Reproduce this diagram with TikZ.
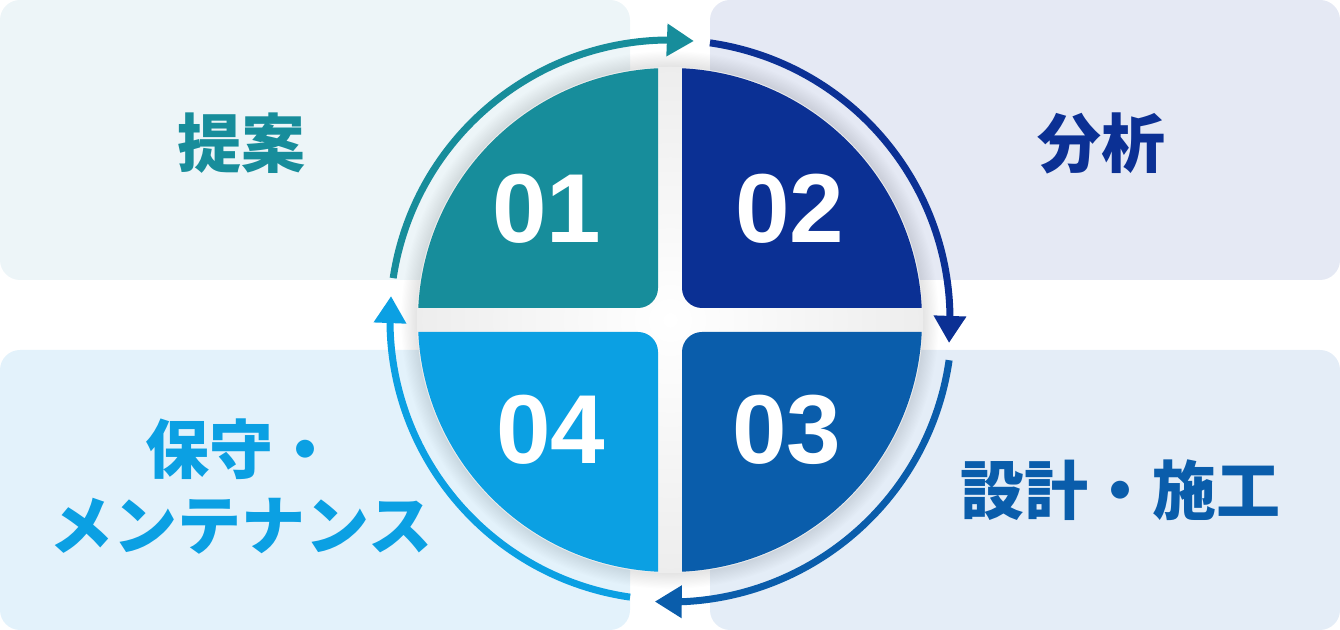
\documentclass[tikz,border=0pt]{standalone}
\usepackage{fontspec}
\setmainfont{Liberation Sans}
\newfontfamily\jpfont{Noto Sans CJK JP}
\usetikzlibrary{arrows.meta,bending}

\definecolor{tealq}{HTML}{178D9B}
\definecolor{navyq}{HTML}{0B3094}
\definecolor{blueq}{HTML}{0A5DAB}
\definecolor{skyq}{HTML}{0BA0E3}
\definecolor{bgteal}{HTML}{EDF5F8}
\definecolor{bgnavy}{HTML}{E5E9F4}
\definecolor{bgblue}{HTML}{E4EDF7}
\definecolor{bgsky}{HTML}{E3F2FB}

\begin{document}
\begin{tikzpicture}[x=0.5pt,y=0.5pt,
    panel/.style={fill=#1,rounded corners=10pt},
    quarter/.style={fill=#1,rounded corners=10pt},
    ring/.style={draw=#1,line width=3.5pt,-{Triangle[length=13.5pt,width=15.5pt]}},
    num/.style={text=white,font=\fontsize{49}{49}\selectfont\bfseries},
    lbl/.style={text=#1,font=\jpfont\fontsize{32}{38}\selectfont\bfseries,align=center}]
    \useasboundingbox (0,0) rectangle (1340,630);

    % Background panels
    \fill[panel=bgteal] (0,350) rectangle (630,630);
    \fill[panel=bgnavy] (710,350) rectangle (1340,630);
    \fill[panel=bgsky] (0,0) rectangle (630,280);
    \fill[panel=bgblue] (710,0) rectangle (1340,280);

    % Center of the cycle
    \coordinate (C) at (670,310);

    % Soft halo round the disc
    \foreach \r in {1,...,14}
        \fill[black,opacity=0.008] (C) circle (252+\r*1.2);
    \shade[inner color=white,outer color=black!7] (C) circle (253);

    % Four quarters, gap 24
    \begin{scope}
        \clip (C) circle (252);
        \fill[quarter=tealq] ([shift={(-12,12)}]C) rectangle ++(-300,300);
        \fill[quarter=navyq] ([shift={(12,12)}]C) rectangle ++(300,300);
        \fill[quarter=blueq] ([shift={(12,-12)}]C) rectangle ++(300,-300);
        \fill[quarter=skyq] ([shift={(-12,-12)}]C) rectangle ++(-300,-300);
    \end{scope}

    % Step numbers
    \node[num] (n01) at (547,421) {01};
    \node[num] (n02) at (790,421) {02};
    \node[num] (n03) at (787,200) {03};
    \node[num] (n04) at (551,200) {04};

    % Cycle arrows, r=280
    \draw[ring=tealq] ([shift={(171.4:280)}]C) arc[start angle=171.4,end angle=85.1,radius=280];
    \draw[ring=navyq] ([shift={(81.8:280)}]C) arc[start angle=81.8,end angle=-4.7,radius=280];
    \draw[ring=blueq] ([shift={(-8.2:282)}]C) arc[start angle=-8.2,end angle=-93.1,radius=282];
    \draw[ring=skyq] ([shift={(-98.2:280)}]C) arc[start angle=-98.2,end angle=-184.9,radius=280];

    % Labels
    \node[lbl=tealq] (teian) at (241,487) {提案};
    \node[lbl=navyq] (bunseki) at (1101,487) {分析};
    \node[lbl=blueq] (sekkei) at (1120,140) {設計・施工};
    \node[lbl=skyq] (hoshu) at (241,143) {保守・\\メンテナンス};
\end{tikzpicture}
\end{document}
